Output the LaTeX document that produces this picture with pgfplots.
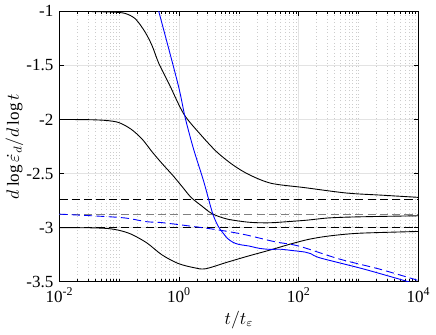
\documentclass[border=0pt]{standalone}
\usepackage{fontspec}
\setmainfont{Liberation Serif}
\usepackage{pgfplots}
\pgfplotsset{compat=1.18}

\begin{document}
\fontsize{10.5}{12.6}\selectfont
\begin{tikzpicture}
\begin{axis}[
    scale only axis,
    width=221.4pt, height=166.8pt,
    xmode=log,
    xmin=1e-2, xmax=1e4,
    ymin=-3.5, ymax=-1,
    xtick={1e-2,1,1e2,1e4},
    xticklabels={10\textsuperscript{-2},10\textsuperscript{0},10\textsuperscript{2},10\textsuperscript{4}},
    minor xtick={0.02,0.03,0.04,0.05,0.06,0.07,0.08,0.09,
                 0.1,0.2,0.3,0.4,0.5,0.6,0.7,0.8,0.9,
                 2,3,4,5,6,7,8,9,
                 10,20,30,40,50,60,70,80,90,
                 200,300,400,500,600,700,800,900,
                 1000,2000,3000,4000,5000,6000,7000,8000,9000},
    ytick={-3.5,-3,-2.5,-2,-1.5,-1},
    yticklabels={-3.5,-3,-2.5,-2,-1.5,-1},
    tick align=inside,
    major tick length=3pt,
    minor tick length=1.8pt,
    tick style={black, line width=0.4pt},
    axis line style={black, line width=0.5pt},
    grid=both,
    major grid style={gray!22, solid, line width=0.5pt},
    minor grid style={gray!40, line width=0.4pt, dash pattern=on 0.5pt off 1.6pt},
    xlabel={$t/t_\varepsilon$},
    ylabel={$d\log\dot{\varepsilon}_d/d\log t$},
    xlabel style={at={(axis description cs:0.5,-0.14)}, anchor=center},
    ylabel style={at={(axis description cs:-0.125,0.5)}, anchor=center},
    clip=true,
    every axis plot/.append style={line width=0.55pt},
]
% reference levels
\addplot[black, dash pattern=on 5pt off 2.6pt] coordinates {(0.01,-2.74) (10000,-2.74)};
\addplot[black!50, dash pattern=on 5pt off 2.6pt, line width=0.7pt] coordinates {(0.01,-2.875) (10000,-2.875)};
\addplot[black, dash pattern=on 5pt off 2.6pt] coordinates {(0.01,-3.0) (10000,-3.0)};

% curve starting at -1
\addplot[black, smooth] coordinates {
 (0.01,-1.000) (0.0316,-1.002) (0.0794,-1.008) (0.126,-1.02) (0.186,-1.07)
 (0.269,-1.19) (0.355,-1.32) (0.457,-1.48) (0.692,-1.68) (1.20,-1.95)
 (2.29,-2.14) (4.27,-2.30) (7.94,-2.42) (14.8,-2.51) (34.7,-2.59)
 (126,-2.63) (631,-2.68) (2512,-2.70) (10000,-2.72)};

% curve starting at -2
\addplot[black, smooth] coordinates {
 (0.01,-2.000) (0.0316,-2.002) (0.0631,-2.01) (0.1,-2.03) (0.158,-2.09)
 (0.240,-2.18) (0.355,-2.30) (0.525,-2.41) (0.794,-2.52) (1.122,-2.62)
 (1.585,-2.72) (2.399,-2.80) (3.548,-2.87) (6.31,-2.92) (14.8,-2.95)
 (31.6,-2.955) (63.1,-2.945) (141,-2.93) (316,-2.91) (1000,-2.90) (10000,-2.89)};

% curve starting at -3
\addplot[black, smooth] coordinates {
 (0.01,-3.000) (0.0316,-3.001) (0.0646,-3.008) (0.1,-3.025) (0.158,-3.06)
 (0.288,-3.14) (0.513,-3.25) (0.955,-3.33) (1.778,-3.37) (2.754,-3.38)
 (6.31,-3.32) (14.8,-3.26) (31.6,-3.21) (74.1,-3.15) (141,-3.11)
 (251,-3.085) (500,-3.065) (1175,-3.05) (10000,-3.035)};

% blue solid
\addplot[blue, smooth] coordinates {
 (0.437,-0.96) (0.955,-1.67) (1.26,-1.98) (1.738,-2.27) (2.57,-2.57)
 (3.548,-2.85) (4.169,-2.95) (4.786,-3.01) (5.623,-3.06) (6.457,-3.10)
 (7.943,-3.135) (10,-3.155) (14.79,-3.17) (21.38,-3.19) (31.62,-3.20)
 (51.29,-3.20) (74.13,-3.21) (125.9,-3.225) (158.5,-3.24) (229.1,-3.28)
 (1175,-3.38) (5888,-3.49) (10000,-3.53)};

% blue dashed
\addplot[blue, smooth, dash pattern=on 5pt off 2.6pt] coordinates {
 (0.01,-2.875) (0.0347,-2.89) (0.123,-2.91) (0.288,-2.945) (0.55,-2.955)
 (3.31,-3.01) (11.5,-3.06) (39.8,-3.13) (100,-3.17) (479,-3.29)
 (2138,-3.38) (7762,-3.47) (10000,-3.49)};
\end{axis}
\end{tikzpicture}
\end{document}
